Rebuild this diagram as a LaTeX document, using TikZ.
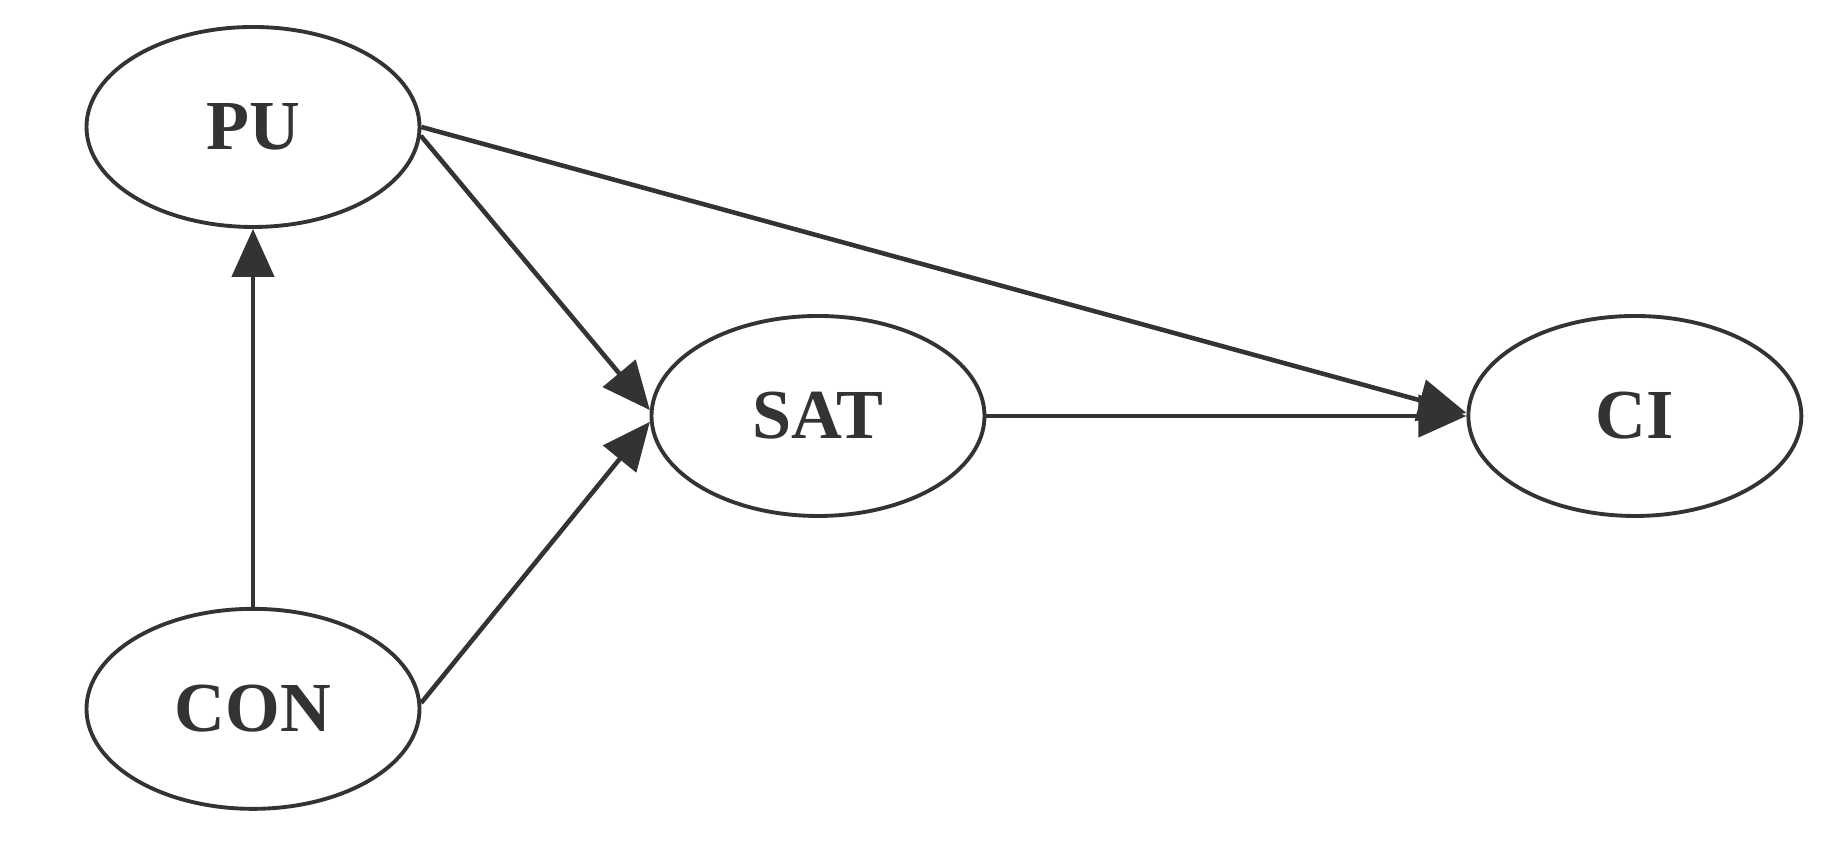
\documentclass[tikz,border=0pt]{standalone}
\usepackage{fontspec}
\setmainfont{Liberation Serif}
\usepackage{xcolor}
\usepackage{tikz}
\usetikzlibrary{shapes.geometric, arrows.meta, positioning}
\definecolor{ink}{RGB}{51, 51, 51}

\begin{document}
\begin{tikzpicture}[
    construct/.style={ellipse, draw=ink, line width=1.1pt, minimum width=3.33cm, minimum height=2.0cm, inner sep=0pt, text=ink, font=\fontsize{20}{22}\selectfont\bfseries},
    arrow/.style={-{Triangle[length=4.8mm,width=4.2mm]}, draw=ink, line width=1.3pt}
]
    \useasboundingbox (0,0) rectangle (18.41,8.44);

    \node[construct] (pu) at (2.53,7.17) {\raisebox{-0.6mm}{PU}};
    \node[construct, below=3.78cm of pu] (con) {\raisebox{-0.6mm}{CON}};
    \node[construct] (sat) at (8.18,4.28) {\raisebox{-0.6mm}{SAT}};
    \node[construct, right=4.8cm of sat] (ci) {\raisebox{-0.6mm}{CI}};

    \draw[arrow] (con.north) -- (pu.south);
    \draw[arrow] (pu.-3) -- (sat.178);
    \draw[arrow] (con.2) -- (sat.182);
    \draw[arrow] (pu.east) -- (ci.179);
    \draw[arrow] (sat.east) -- (ci.west);
\end{tikzpicture}
\end{document}
